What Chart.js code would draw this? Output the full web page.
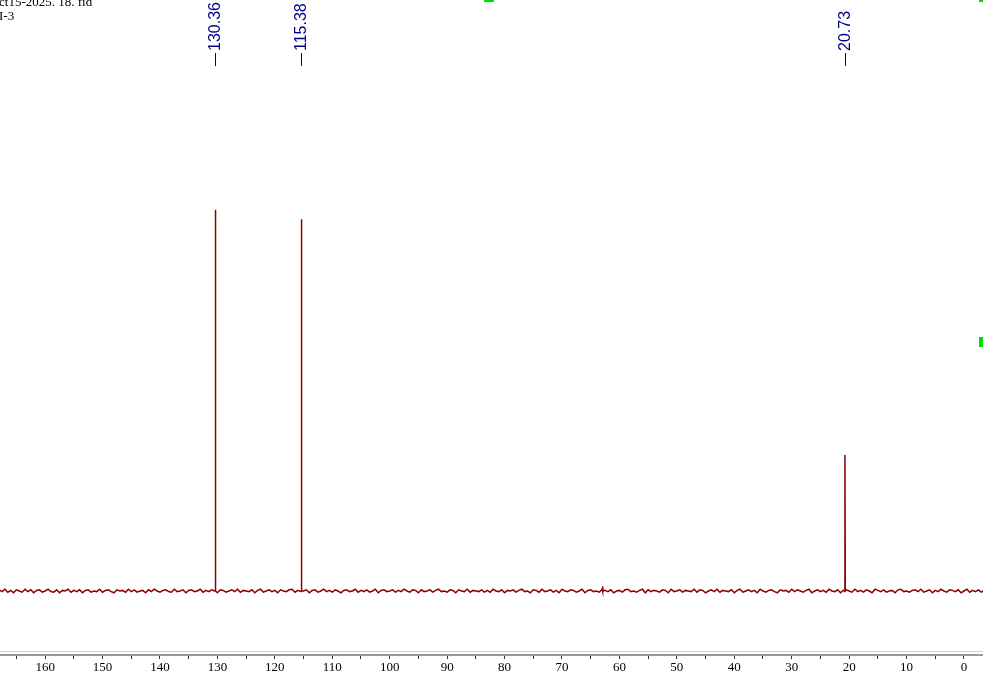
<!DOCTYPE html>
<html>
<head>
<meta charset="utf-8">
<script src="https://cdn.jsdelivr.net/npm/chart.js@4/dist/chart.umd.min.js"></script>
<style>
  html, body { margin: 0; padding: 0; background: #fff; overflow: hidden; }
  #wrap { position: relative; width: 983px; height: 675px; }
  #spec { position: absolute; left: 0; top: 0; }
  .info { position: absolute; left: -1px; font: 13px "Liberation Serif", serif; color: #000; line-height: 13px; white-space: pre; }
</style>
</head>
<body>
<div id="wrap">
  <canvas id="spec" width="983" height="675"></canvas>
  <div class="info" style="top:-5px">ct15-2025. 18. fid</div>
  <div class="info" style="top:9px">I-3</div>
</div>
<script>
// ppm positions and heights of the peaks
const peakPpm = [130.36, 115.38, 62.9, 20.73];
const peakHeight = [64.5, 62.9, 0.8, 23.0];
const peakLabels = ['130.36', '115.38', '20.73'];
const labelPpm = [130.36, 115.38, 20.73];

// baseline noise, one value every 0.5 ppm from 168 down to -3.5
const noisePpm = [];
for (let p = 168; p >= -3.5; p -= 0.5) noisePpm.push(p);
const noiseVals = [
   0.2,-0.1, 0.3,-0.2, 0.1,-0.3, 0.2, 0.0,-0.2, 0.3, -0.1, 0.2,-0.3, 0.1, 0.2,-0.2, 0.0, 0.3,-0.1,-0.2,
   0.2,-0.3, 0.1, 0.0, 0.3,-0.2, 0.1,-0.1, 0.2,-0.3,  0.1, 0.2,-0.2, 0.0,-0.1, 0.3,-0.2, 0.1, 0.2,-0.1,
  -0.3, 0.2, 0.0, 0.1,-0.2, 0.3,-0.1, 0.2,-0.2, 0.0,  0.1,-0.3, 0.2,-0.1, 0.3, 0.0,-0.2, 0.1, 0.2,-0.1,
  -0.2, 0.3,-0.1, 0.0, 0.2,-0.3, 0.1, 0.2,-0.1, 0.0,  0.3,-0.2, 0.1,-0.1, 0.2, 0.0,-0.3, 0.2, 0.1,-0.2,
   0.0, 0.2,-0.1, 0.3,-0.2, 0.1, 0.0,-0.1, 0.2,-0.3,  0.1, 0.3,-0.2, 0.0, 0.2,-0.1, 0.1,-0.3, 0.2, 0.0,
  -0.1, 0.2, 0.3,-0.2, 0.1,-0.1, 0.0, 0.2,-0.3, 0.1,  0.2,-0.2, 0.0, 0.3,-0.1, 0.1,-0.2, 0.2, 0.0,-0.3,
   0.1, 0.2,-0.1, 0.0, 0.3,-0.2, 0.1,-0.1, 0.2,-0.2,  0.0, 0.3,-0.3, 0.1, 0.2,-0.1, 0.0, 0.2,-0.2, 0.1,
  -0.1, 0.3, 0.0,-0.2, 0.2, 0.1,-0.3, 0.2,-0.1, 0.0,  0.2,-0.2, 0.1, 0.3,-0.1, 0.0,-0.2, 0.2, 0.1,-0.3,
   0.2, 0.0,-0.1, 0.3,-0.2, 0.1, 0.0,-0.1, 0.2,-0.2,  0.1,-0.2, 0.3, 0.0,-0.1, 0.2,-0.3, 0.1, 0.0, 0.2,
  -0.2, 0.1, 0.3,-0.1, 0.0,-0.3, 0.2, 0.1,-0.2, 0.3, -0.1, 0.0, 0.2,-0.2, 0.1,-0.3, 0.3, 0.0,-0.1, 0.2,
   0.1,-0.2, 0.0, 0.3,-0.3, 0.1, 0.2,-0.1, 0.0,-0.2,  0.3, 0.1,-0.1, 0.2,-0.3, 0.0, 0.1,-0.2, 0.2, 0.3,
  -0.1, 0.0,-0.2, 0.1, 0.3,-0.3, 0.2,-0.1, 0.1, 0.0, -0.2, 0.2, 0.1,-0.3, 0.3,-0.1, 0.0, 0.2,-0.2, 0.1,
   0.0,-0.1, 0.3,-0.2, 0.2, 0.1,-0.3, 0.0, 0.2,-0.1,  0.3,-0.2, 0.1, 0.0,-0.1, 0.2,-0.3, 0.1, 0.3,-0.2,
   0.0, 0.2,-0.1, 0.1,-0.3, 0.3, 0.0,-0.2, 0.1, 0.2, -0.1,-0.3, 0.2, 0.0, 0.1,-0.2, 0.3,-0.1, 0.2, 0.0,
  -0.2, 0.1, 0.3,-0.3, 0.0, 0.2,-0.1, 0.1,-0.2, 0.3,  0.0,-0.1, 0.2,-0.3, 0.1, 0.2, 0.0,-0.2, 0.3,-0.1,
   0.1,-0.2, 0.2, 0.0,-0.3, 0.3, 0.1,-0.1, 0.2,-0.2,  0.0, 0.1,-0.3, 0.2, 0.3,-0.1, 0.0,-0.2, 0.1, 0.2,
  -0.1, 0.3,-0.2, 0.0, 0.2,-0.3, 0.1,-0.1, 0.3, 0.0, -0.2, 0.2, 0.1,-0.1, 0.2,-0.3, 0.0, 0.3,-0.2, 0.1,
  -0.1, 0.2,-0.2, 0.1, 0.0, 0.3,-0.1,-0.2, 0.2, 0.0
];

const majorTicks = [0, 10, 20, 30, 40, 50, 60, 70, 80, 90, 100, 110, 120, 130, 140, 150, 160];
const minorTicks = [5, 15, 25, 35, 45, 55, 65, 75, 85, 95, 105, 115, 125, 135, 145, 155, 165];

// merge baseline and spikes into one trace
const pts = noisePpm.map((p, i) => ({x: p, y: noiseVals[i] || 0}));
peakPpm.forEach((p, i) => {
  pts.push({x: p + 0.06, y: 0});
  pts.push({x: p, y: peakHeight[i]});
  pts.push({x: p - 0.06, y: 0});
});
pts.sort((a, b) => b.x - a.x);

const extras = {
  id: 'extras',
  afterDraw(chart) {
    const ctx = chart.ctx;
    const xs = chart.scales.x;
    const bottom = chart.chartArea.bottom;
    ctx.save();
    // light line above the axis
    ctx.strokeStyle = '#d0d0d0';
    ctx.lineWidth = 1;
    ctx.beginPath();
    ctx.moveTo(0, bottom - 3.5);
    ctx.lineTo(chart.width, bottom - 3.5);
    ctx.stroke();
    // peak labels
    ctx.fillStyle = '#00008b';
    ctx.strokeStyle = '#00008b';
    ctx.font = '16px "Liberation Sans", Arial, sans-serif';
    labelPpm.forEach((p, i) => {
      const x = Math.round(xs.getPixelForValue(p)) + 0.5;
      ctx.beginPath();
      ctx.moveTo(x, 53);
      ctx.lineTo(x, 66);
      ctx.stroke();
      ctx.save();
      ctx.translate(x, 51);
      ctx.rotate(-Math.PI / 2);
      ctx.textAlign = 'left';
      ctx.textBaseline = 'middle';
      ctx.fillText(peakLabels[i], 0, 0);
      ctx.restore();
    });
    // green integration markers
    ctx.fillStyle = '#00e000';
    ctx.fillRect(484, 0, 10, 2);
    ctx.fillRect(979, 0, 4, 2);
    ctx.fillRect(979, 337, 4, 10);
    ctx.restore();
  }
};

new Chart(document.getElementById('spec'), {
  type: 'line',
  data: {
    datasets: [{
      data: pts,
      borderColor: '#8b0000',
      borderWidth: 1.5,
      pointRadius: 0,
      tension: 0
    }]
  },
  options: {
    responsive: false,
    animation: false,
    parsing: false,
    layout: { padding: 0 },
    plugins: { legend: { display: false }, tooltip: { enabled: false } },
    scales: {
      x: {
        type: 'linear',
        reverse: true,
        min: -3.31,
        max: 167.86,
        afterBuildTicks(scale) {
          scale.ticks = majorTicks.concat(minorTicks).sort((a, b) => a - b).map(v => ({value: v}));
        },
        afterFit(scale) { scale.height = 20; },
        grid: { drawOnChartArea: false, tickLength: 4, color: '#333' },
        border: { display: true, color: '#999', width: 2 },
        ticks: {
          autoSkip: false,
          maxRotation: 0,
          padding: 1,
          color: '#000',
          font: { family: '"Liberation Serif", serif', size: 13 },
          callback: v => (v % 10 === 0 ? String(v) : '')
        }
      },
      y: {
        display: false,
        min: -10.83,
        max: 100
      }
    }
  },
  plugins: [extras]
});
</script>
</body>
</html>
